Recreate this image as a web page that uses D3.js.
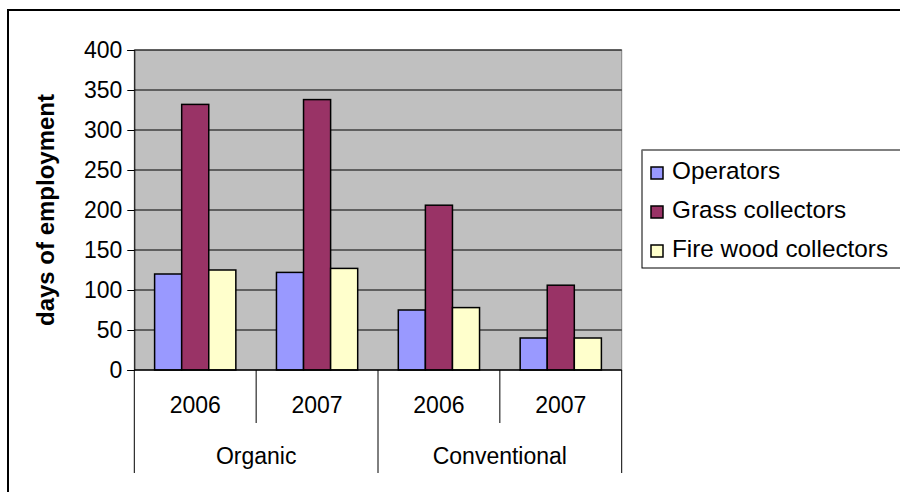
<!DOCTYPE html>
<meta charset="utf-8">
<script src="https://cdn.jsdelivr.net/npm/d3@7"></script>
<style>
  body { margin: 0; background: #fff; }
  text { font-family: "Liberation Sans", Arial, sans-serif; fill: #000; }
</style>
<div id="chart"></div>
<script>

// data
var groups = ["Organic", "Conventional"];
var years = ["2006", "2007"];
var series = ["Operators", "Grass collectors", "Fire wood collectors"];
var operators = [120, 122, 75, 40];
var grassCollectors = [332, 338, 206, 106];
var fireWood = [125, 127, 78, 40];
var yTicks = [0, 50, 100, 150, 200, 250, 300, 350, 400];
var colors = ["#9999FF", "#993366", "#FFFFCC"];

var W = 900, H = 492;
var plot = {left: 134.3, top: 50, right: 621.7, bottom: 370};
var fs = "23px";

var svg = d3.select("#chart").append("svg")
    .attr("width", W).attr("height", H);

// outer frame
svg.append("rect")
    .attr("x", 8).attr("y", 10)
    .attr("width", 900).attr("height", 500)
    .attr("fill", "none").attr("stroke", "#000").attr("stroke-width", 2);

// categories (group / year)
var cats = [];
groups.forEach(function(g) { years.forEach(function(y) { cats.push(g + "|" + y); }); });
var values = [operators, grassCollectors, fireWood];

var x = d3.scaleBand().domain(cats).range([plot.left, plot.right]);
var y = d3.scaleLinear().domain([0, 400]).range([plot.bottom, plot.top]);
var barW = x.bandwidth() / 4.5;
var xs = d3.scaleBand().domain(series).range([0, barW * 3]);

// plot background
svg.append("rect")
    .attr("x", plot.left).attr("y", plot.top)
    .attr("width", plot.right - plot.left).attr("height", plot.bottom - plot.top)
    .attr("fill", "#C0C0C0").attr("stroke", "#808080").attr("stroke-width", 1);

// gridlines
svg.append("g").selectAll("line")
    .data(yTicks.filter(function(d) { return d > 0; }))
    .enter().append("line")
    .attr("x1", plot.left).attr("x2", plot.right)
    .attr("y1", function(d) { return y(d); }).attr("y2", function(d) { return y(d); })
    .attr("stroke", "#000").attr("stroke-width", 1);

// y axis
var yAxis = svg.append("g")
    .attr("transform", "translate(" + plot.left + ",0)")
    .call(d3.axisLeft(y).tickValues(yTicks).tickSize(7).tickPadding(5));
yAxis.select(".domain").attr("stroke", "#000");
yAxis.selectAll("text").style("font-size", fs).attr("font-family", null);

// bars
cats.forEach(function(c, i) {
  var g = svg.append("g")
      .attr("transform", "translate(" + (x(c) + (x.bandwidth() - barW * 3) / 2) + ",0)");
  series.forEach(function(s, k) {
    var v = values[k][i];
    g.append("rect")
        .attr("x", xs(s)).attr("y", y(v))
        .attr("width", xs.bandwidth()).attr("height", y(0) - y(v))
        .attr("fill", colors[k]).attr("stroke", "#000").attr("stroke-width", 1.5);
  });
});

// x axis baseline
svg.append("line")
    .attr("x1", plot.left).attr("x2", plot.right)
    .attr("y1", y(0)).attr("y2", y(0))
    .attr("stroke", "#000").attr("stroke-width", 1.5);

// year labels and separators
svg.append("g").selectAll("text")
    .data(cats).enter().append("text")
    .attr("x", function(d) { return x(d) + x.bandwidth() / 2; })
    .attr("y", 412.5)
    .attr("text-anchor", "middle")
    .style("font-size", fs)
    .text(function(d) { return d.split("|")[1]; });

svg.append("g").selectAll("line")
    .data(cats.filter(function(d, i) { return i % 2 == 1; }))
    .enter().append("line")
    .attr("x1", function(d) { return x(d); }).attr("x2", function(d) { return x(d); })
    .attr("y1", y(0)).attr("y2", 423)
    .attr("stroke", "#000");

// group labels and separators
var gw = (plot.right - plot.left) / groups.length;
svg.append("g").selectAll("line")
    .data(d3.range(groups.length + 1))
    .enter().append("line")
    .attr("x1", function(d) { return plot.left + d * gw; })
    .attr("x2", function(d) { return plot.left + d * gw; })
    .attr("y1", y(0)).attr("y2", 473)
    .attr("stroke", "#000");

svg.append("g").selectAll("text")
    .data(groups).enter().append("text")
    .attr("x", function(d, i) { return plot.left + gw * (i + 0.5); })
    .attr("y", 464)
    .attr("text-anchor", "middle")
    .style("font-size", fs)
    .text(function(d) { return d; });

// y title
svg.append("text")
    .attr("transform", "translate(54," + ((plot.top + plot.bottom) / 2) + ") rotate(-90)")
    .attr("text-anchor", "middle")
    .style("font-size", "24px").style("font-weight", "bold")
    .text("days of employment");

// legend
var lg = svg.append("g").attr("transform", "translate(642,150)");
lg.append("rect")
    .attr("x", 0).attr("y", 0).attr("width", 290).attr("height", 118)
    .attr("fill", "#fff").attr("stroke", "#000").attr("stroke-width", 1);
lg.append("line").attr("x1", 0).attr("x2", 290).attr("y1", 0).attr("y2", 0)
    .attr("stroke", "#808080").attr("stroke-width", 1.5);
var items = lg.selectAll(".item").data(series).enter().append("g")
    .attr("transform", function(d, i) { return "translate(0," + (23 + i * 39) + ")"; });
items.append("rect")
    .attr("x", 9).attr("y", -6).attr("width", 12).attr("height", 12)
    .attr("fill", function(d, i) { return colors[i]; })
    .attr("stroke", "#000").attr("stroke-width", 1.5);
items.append("text")
    .attr("x", 30).attr("y", 6)
    .style("font-size", "24.3px")
    .text(function(d) { return d; });

</script>
